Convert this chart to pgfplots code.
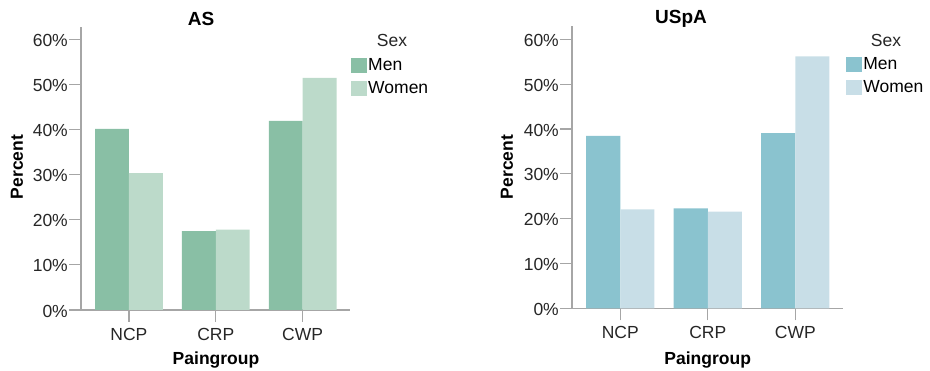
\documentclass[border=0pt]{standalone}
\usepackage{fontspec}
\setmainfont{Liberation Sans}
\usepackage{pgfplots}
\pgfplotsset{compat=1.18}

\definecolor{asMen}{HTML}{89BFA5}
\definecolor{asWomen}{HTML}{BCDACA}
\definecolor{usMen}{HTML}{8AC3CF}
\definecolor{usWomen}{HTML}{C8DEE7}
\definecolor{axisgray}{HTML}{A6A6A6}

\pgfplotsset{
  painbars/.style={
    scale only axis,
    anchor=south west,
    xmin=-0.552, xmax=2.545, ymin=0,
    axis x line*=bottom, axis y line*=left,
    axis line style={axisgray, line width=1.2pt},
    tick style={axisgray, line width=1.2pt},
    tick align=outside, major tick length=12pt,
    xtick={0,1,2}, xticklabels={NCP,CRP,CWP},
    ytick={0,10,...,60},
    yticklabel={\pgfmathprintnumber{\tick}\%},
    /pgf/number format/assume math mode=true,
    ticklabel style={font=\fontsize{17.5}{20}\selectfont, text=black!85},
    yticklabel style={inner sep=0pt, xshift=-1pt, yshift=-1pt},
    xticklabel style={inner sep=0pt, yshift=-6pt},
    legend image code/.code={\fill[##1] (0pt,-7.5pt) rectangle (16pt,7.5pt);},
    legend style={draw=none, fill=none, inner sep=0pt, row sep=5pt,
      font=\fontsize{17.5}{20}\selectfont,
      nodes={inner sep=1.5pt, anchor=west, text height=12pt, text depth=3pt},
      anchor=north west},
    legend cell align=left,
  }
}

\begin{document}
\begin{tikzpicture}[x=1pt,y=1pt]
\useasboundingbox (0,0) rectangle (930,371);

% AS panel
\begin{axis}[painbars, at={(81pt,61pt)}, width=269pt, height=283pt, ymax=62.7,
  legend style={at={(1.002,0.896)}}]
\addplot[ybar, draw=none, fill=asMen, bar width=0.39, bar shift=-0.195]
  coordinates {(0,40.1) (1,17.5) (2,41.9)};
\addplot[ybar, draw=none, fill=asWomen, bar width=0.39, bar shift=0.195]
  coordinates {(0,30.3) (1,17.8) (2,51.4)};
\legend{Men,Women}
\end{axis}

% USpA panel
\begin{axis}[painbars, at={(572pt,62.7pt)}, width=271pt, height=282.3pt, ymax=63,
  legend style={at={(1.01,0.895)}}]
\addplot[ybar, draw=none, fill=usMen, bar width=0.39, bar shift=-0.195]
  coordinates {(0,38.5) (1,22.3) (2,39.1)};
\addplot[ybar, draw=none, fill=usWomen, bar width=0.39, bar shift=0.195]
  coordinates {(0,22.1) (1,21.6) (2,56.2)};
\legend{Men,Women}
\end{axis}

\begin{scope}[every node/.style={font=\fontsize{17.5}{20}\selectfont, text=black!85}]
  \node at (392,330.3) {Sex};
  \node at (886,330.3) {Sex};
\end{scope}
\begin{scope}[every node/.style={font=\bfseries\fontsize{17.5}{20}\selectfont}]
  \node[font=\bfseries\fontsize{19}{22}\selectfont] at (201,352) {AS};
  \node[font=\bfseries\fontsize{19}{22}\selectfont] at (681,352) {USpA};
  \node[rotate=90] at (17,204) {Percent};
  \node[rotate=90] at (507,204) {Percent};
  \node at (216,11) {Paingroup};
  \node at (707.7,11) {Paingroup};
\end{scope}
\end{tikzpicture}
\end{document}
